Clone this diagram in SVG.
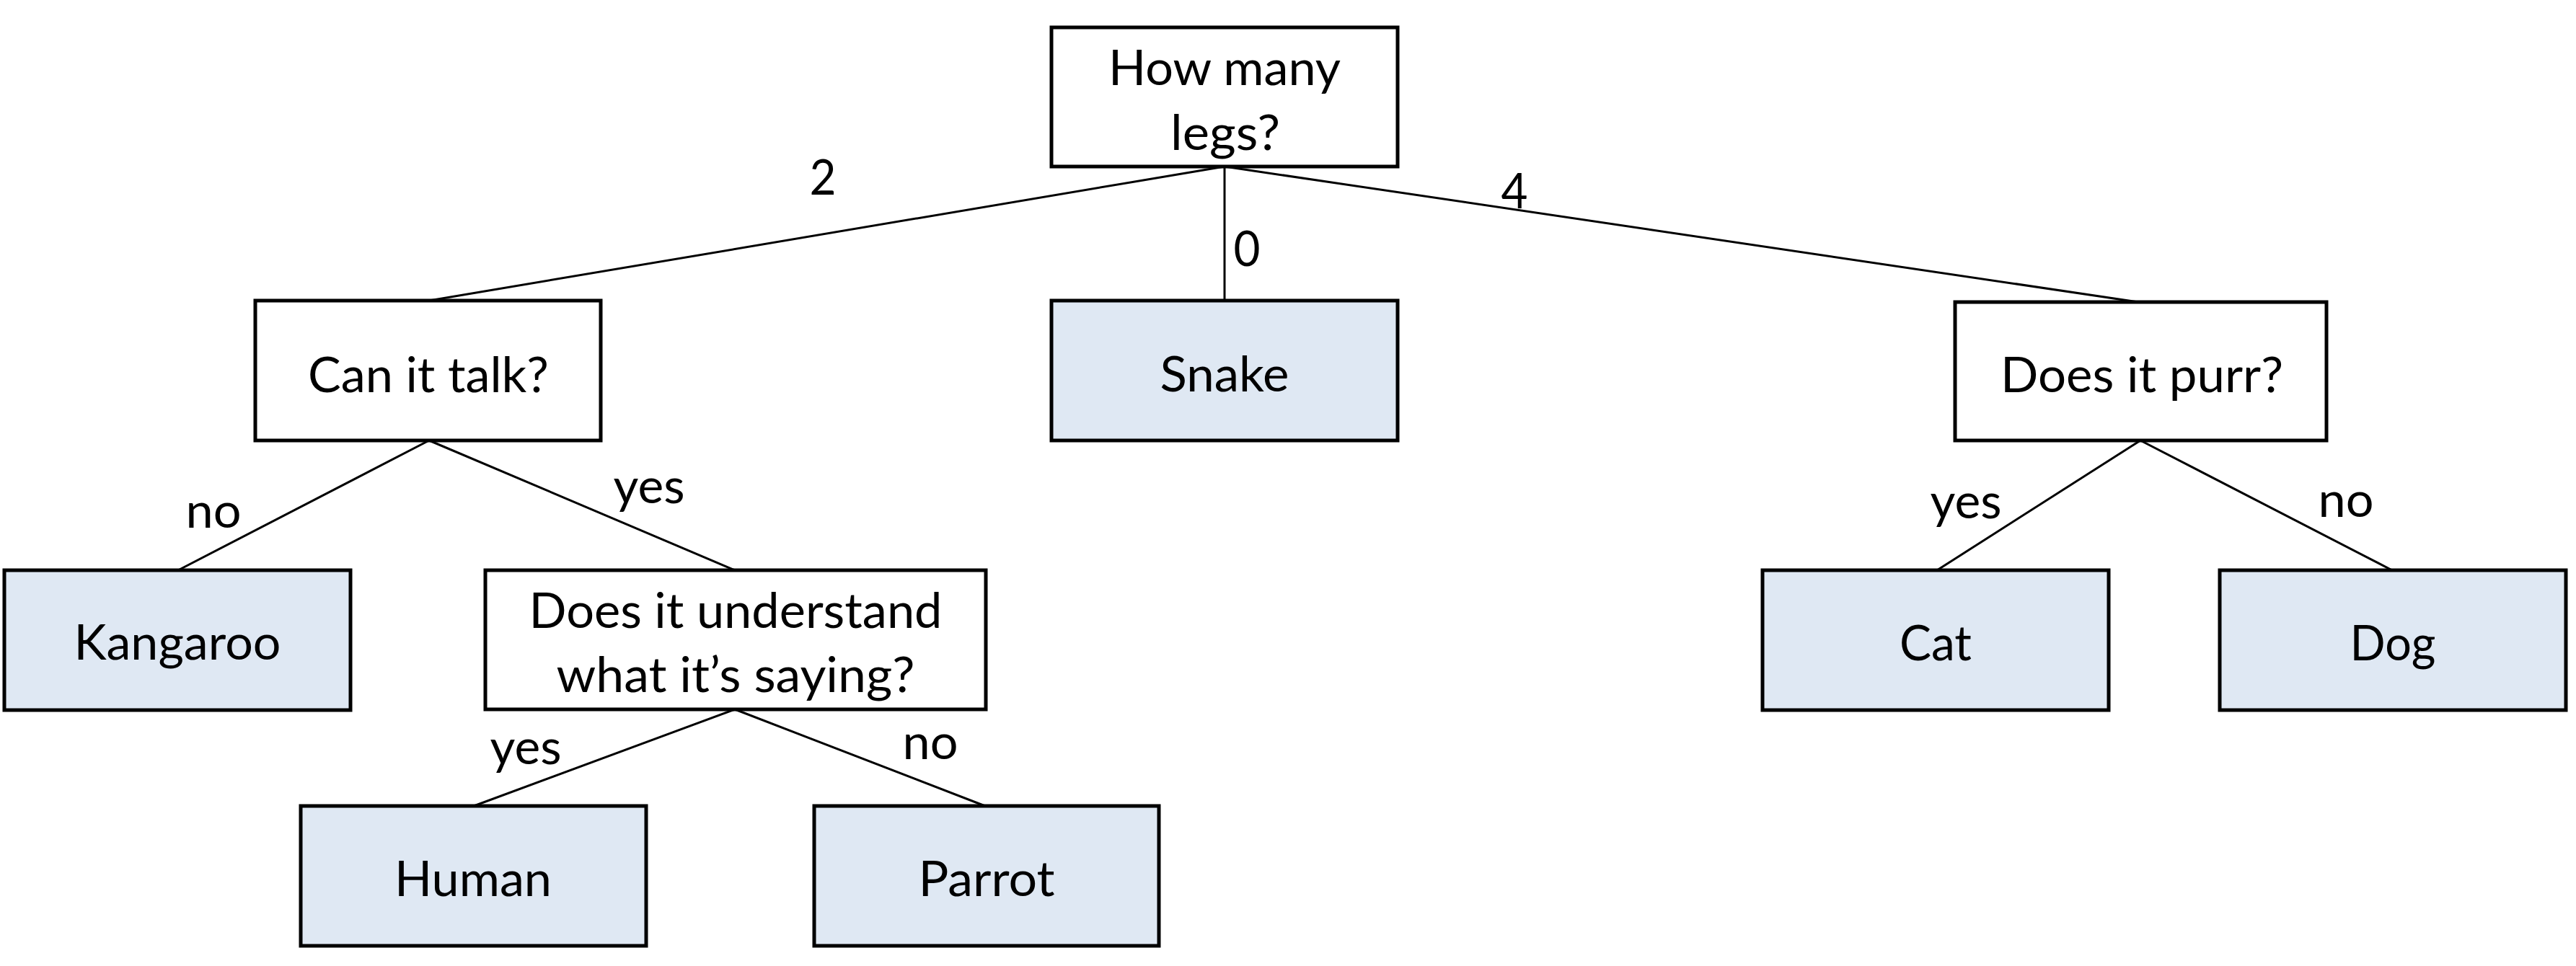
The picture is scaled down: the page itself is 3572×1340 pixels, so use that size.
<svg xmlns="http://www.w3.org/2000/svg" width="3572" height="1340" viewBox="0 0 3572 1340">
<style>
.q{fill:#FFFFFF;stroke:#000;stroke-width:5}
.a{fill:#DFE8F3;stroke:#000;stroke-width:5}
.t{font-family:Lato,"Open Sans","Liberation Sans",sans-serif;font-size:67px;fill:#000;text-anchor:middle}
.c line{stroke:#000;stroke-width:3;fill:none}
</style>
<rect width="3572" height="1340" fill="#FFFFFF"/>
<g id="connectors" class="c">
<line x1="1698" y1="231" x2="595" y2="417"/>
<line x1="1698" y1="231" x2="1698" y2="417"/>
<line x1="1698" y1="231" x2="2965" y2="419"/>
<line x1="595" y1="611" x2="247" y2="791"/>
<line x1="595" y1="611" x2="1019" y2="791"/>
<line x1="1019" y1="984" x2="657" y2="1118"/>
<line x1="1019" y1="984" x2="1366" y2="1118"/>
<line x1="2968" y1="611" x2="2686" y2="791"/>
<line x1="2968" y1="611" x2="3317" y2="791"/>
</g>
<g id="edge-labels" class="t">
<text x="1141" y="270" textLength="37" lengthAdjust="spacingAndGlyphs">2</text>
<text x="1729" y="369" textLength="37" lengthAdjust="spacingAndGlyphs">0</text>
<text x="2100" y="289" textLength="37" lengthAdjust="spacingAndGlyphs">4</text>
<text x="296" y="732" textLength="77" lengthAdjust="spacingAndGlyphs">no</text>
<text x="900" y="698" textLength="99" lengthAdjust="spacingAndGlyphs">yes</text>
<text x="729" y="1060" textLength="99" lengthAdjust="spacingAndGlyphs">yes</text>
<text x="1290" y="1053" textLength="77" lengthAdjust="spacingAndGlyphs">no</text>
<text x="2726" y="719" textLength="99" lengthAdjust="spacingAndGlyphs">yes</text>
<text x="3253" y="717" textLength="77" lengthAdjust="spacingAndGlyphs">no</text>
</g>
<g id="node-legs">
<rect class="q" x="1458" y="38" width="480" height="193"/>
<text class="t" x="1698" y="118" textLength="322" lengthAdjust="spacingAndGlyphs">How many</text>
<text class="t" x="1699" y="208" textLength="152" lengthAdjust="spacingAndGlyphs">legs?</text>
</g>
<g id="node-talk">
<rect class="q" x="354" y="417" width="479" height="194"/>
<text class="t" x="594" y="544" textLength="334" lengthAdjust="spacingAndGlyphs">Can it talk?</text>
</g>
<g id="node-snake">
<rect class="a" x="1458" y="417" width="480" height="194"/>
<text class="t" x="1698" y="543" textLength="179" lengthAdjust="spacingAndGlyphs">Snake</text>
</g>
<g id="node-purr">
<rect class="q" x="2711" y="419" width="515" height="192"/>
<text class="t" x="2970" y="544" textLength="392" lengthAdjust="spacingAndGlyphs">Does it purr?</text>
</g>
<g id="node-kangaroo">
<rect class="a" x="6" y="791" width="480" height="194"/>
<text class="t" x="246" y="915" textLength="287" lengthAdjust="spacingAndGlyphs">Kangaroo</text>
</g>
<g id="node-understand">
<rect class="q" x="673" y="791" width="694" height="193"/>
<text class="t" x="1020" y="871" textLength="573" lengthAdjust="spacingAndGlyphs">Does it understand</text>
<text class="t" x="1020" y="960" textLength="497" lengthAdjust="spacingAndGlyphs">what it’s saying?</text>
</g>
<g id="node-cat">
<rect class="a" x="2444" y="791" width="480" height="194"/>
<text class="t" x="2684" y="916" textLength="100" lengthAdjust="spacingAndGlyphs">Cat</text>
</g>
<g id="node-dog">
<rect class="a" x="3078" y="791" width="480" height="194"/>
<text class="t" x="3318" y="916" textLength="119" lengthAdjust="spacingAndGlyphs">Dog</text>
</g>
<g id="node-human">
<rect class="a" x="417" y="1118" width="479" height="194"/>
<text class="t" x="656" y="1243" textLength="218" lengthAdjust="spacingAndGlyphs">Human</text>
</g>
<g id="node-parrot">
<rect class="a" x="1129" y="1118" width="478" height="194"/>
<text class="t" x="1368" y="1243" textLength="189" lengthAdjust="spacingAndGlyphs">Parrot</text>
</g>
</svg>
